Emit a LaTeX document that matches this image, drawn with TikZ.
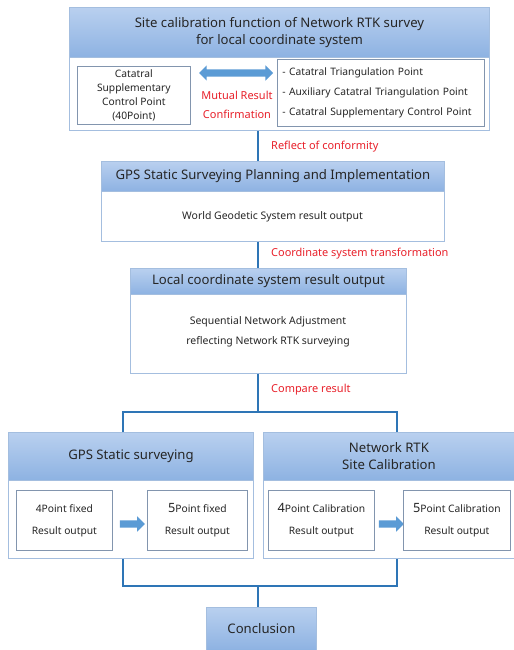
\documentclass[tikz,border=0pt]{standalone}
\usepackage{fontspec}
\setmainfont{Noto Sans}
\usetikzlibrary{shapes.arrows}
\definecolor{headtop}{HTML}{B9D0EF}
\definecolor{headbot}{HTML}{8DB2E2}
\definecolor{panelline}{HTML}{A4BEDF}
\definecolor{cellline}{HTML}{8295AE}
\definecolor{linkblue}{HTML}{2E75B6}
\definecolor{arrowblue}{HTML}{5B9BD5}
\definecolor{notered}{HTML}{E8202A}
\definecolor{ink}{HTML}{262626}
\def\big#1{{\fontsize{12.8}{14}\selectfont #1}}

\begin{document}
\begin{tikzpicture}[x=1bp, y=-1bp,
	panel/.style={draw=panelline, line width=0.9bp, fill=white, inner sep=0pt, anchor=north west},
	head/.style={panel, top color=headtop, bottom color=headbot, text=ink, align=center, font=\fontsize{13.2}{17}\selectfont},
	cell/.style={draw=cellline, line width=0.7bp, fill=white, text=ink, align=center, inner sep=0pt, anchor=north west, font=\fontsize{10.3}{14}\selectfont},
	body/.style={text=ink, align=center, inner sep=0pt, font=\fontsize{10.5}{20}\selectfont},
	note/.style={text=notered, anchor=west, inner sep=0pt, font=\fontsize{11}{19}\selectfont},
	link/.style={draw=linkblue, line width=1.1bp},
	blockarrow/.style={fill=arrowblue, inner xsep=0pt, inner ysep=3.5bp}
	]
			%%%%% START %%%%%
			\useasboundingbox (0,0) rectangle (514,650);
			
			\node[panel, minimum width=420bp, minimum height=123bp] (sitebox) at (69,7) {};
			\node[head, minimum width=420bp, minimum height=50bp] (sitehead) at (69,7) {Site calibration function of Network RTK survey\\for local coordinate system};
			\node[cell, minimum width=113bp, minimum height=58bp] (csp) at (77,66) {Catatral\\Supplementary\\Control Point\\(40Point)};
			\node[cell, minimum width=207bp, minimum height=67bp, text width=197bp, align=left, font=\fontsize{10.3}{20}\selectfont] (points) at (277,59) {- Catatral Triangulation Point\\- Auxiliary Catatral Triangulation Point\\- Catatral Supplementary Control Point};
			\node[double arrow, blockarrow, double arrow head extend=4bp, minimum height=74bp] (mutualarrow) at (236,73) {};
			\node[note, anchor=center, align=center] (mutual) at (237,104.5) {Mutual Result\\Confirmation};
			
			\node[panel, minimum width=343bp, minimum height=80bp] (gpsbox) at (101,161) {};
			\node[head, minimum width=343bp, minimum height=30bp] (gpshead) at (101,161) {GPS Static Surveying Planning and Implementation};
			\node[body] (wgs) at (272.5,217) {World Geodetic System result output};
			
			\node[panel, minimum width=276bp, minimum height=105bp] (localbox) at (130,268) {};
			\node[head, minimum width=276bp, minimum height=26bp] (localhead) at (130,268) {Local coordinate system result output};
			\node[body] (adjust) at (268,332) {Sequential Network Adjustment\\reflecting Network RTK surveying};
			
			\node[panel, minimum width=245bp, minimum height=126bp] (staticbox) at (8,432) {};
			\node[head, minimum width=245bp, minimum height=48bp] (statichead) at (8,432) {GPS Static surveying};
			\node[cell, minimum width=96bp, minimum height=60bp, font=\fontsize{10.3}{22}\selectfont] (fixfour) at (16,490) {4Point fixed\\Result output};
			\node[single arrow, blockarrow, single arrow head extend=4bp, minimum height=25bp] (staticarrow) at (130.5,524) {};
			\node[cell, minimum width=100bp, minimum height=60bp, font=\fontsize{10.3}{22}\selectfont] (fixfive) at (147,490) {\big{5}Point fixed\\Result output};
			
			\node[panel, minimum width=251bp, minimum height=126bp] (rtkbox) at (263,432) {};
			\node[head, minimum width=251bp, minimum height=48bp] (rtkhead) at (263,432) {Network RTK\\Site Calibration};
			\node[cell, minimum width=106bp, minimum height=60bp, font=\fontsize{10.3}{22}\selectfont] (calfour) at (268,490) {\big{4}Point Calibration\\Result output};
			\node[single arrow, blockarrow, single arrow head extend=4bp, minimum height=25bp] (rtkarrow) at (389.5,524) {};
			\node[cell, minimum width=107bp, minimum height=60bp, font=\fontsize{10.3}{22}\selectfont] (calfive) at (403,490) {\big{5}Point Calibration\\Result output};
			
			\node[head, minimum width=110bp, minimum height=43bp] (conclusion) at (206,607) {Conclusion};
			
			%% connectors
			\coordinate (spine) at (258,0);
			\coordinate (leftx) at (123,0);
			\coordinate (rightx) at (397,0);
			\coordinate (split) at (258,412);
			\coordinate (join) at (258,586);
			
			\draw[link] (sitebox.south -| spine) -- (gpshead.north -| spine);
			\draw[link] (gpsbox.south -| spine) -- (localhead.north -| spine);
			\draw[link] (localbox.south -| spine) -- (split);
			\draw[link] (statichead.north -| leftx) -- (leftx |- split) -- (rightx |- split) -- (rtkhead.north -| rightx);
			\draw[link] (staticbox.south -| leftx) -- (leftx |- join) -- (rightx |- join) -- (rtkbox.south -| rightx);
			\draw[link] (join) -- (conclusion.north -| join);
			
			\node[note] (reflect) at (271,147) {Reflect of conformity};
			\node[note] (transform) at (271,254) {Coordinate system transformation};
			\node[note] (compare) at (271,390) {Compare result};
			%%%%% END %%%%%
\end{tikzpicture}
\end{document}
